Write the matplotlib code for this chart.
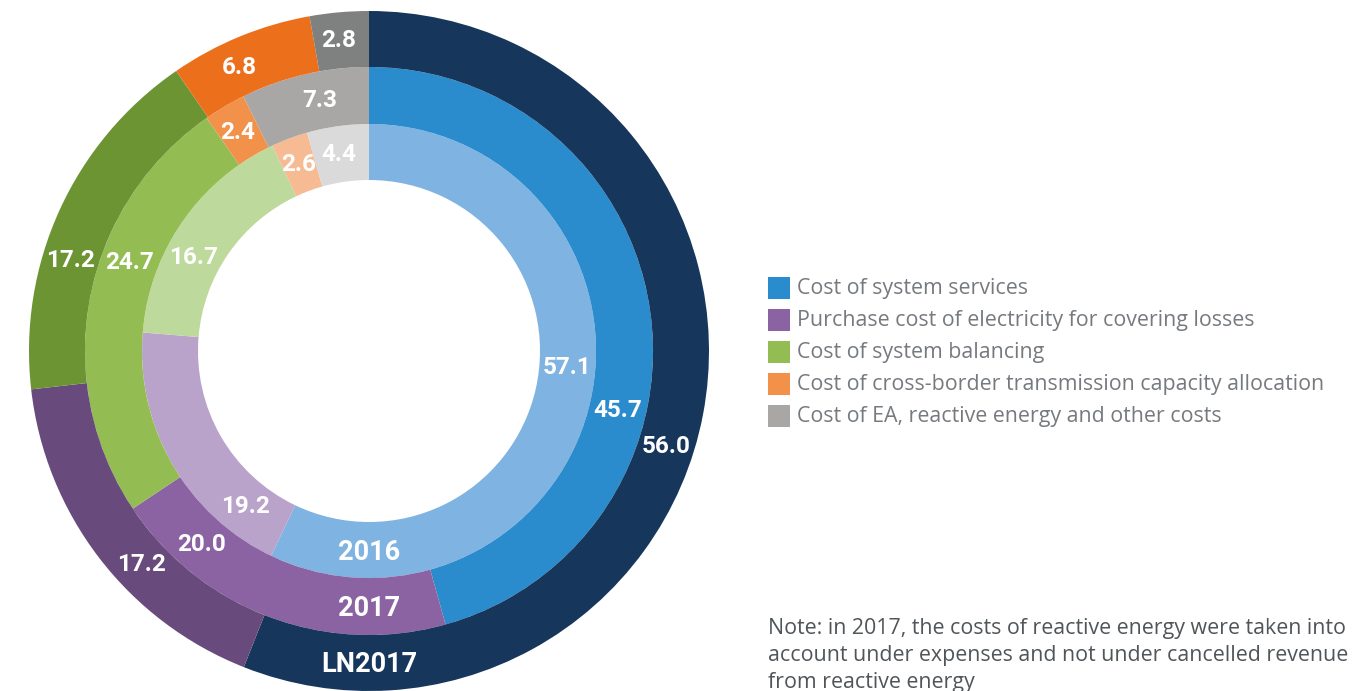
import numpy as np
import matplotlib
matplotlib.use("Agg")
import matplotlib.pyplot as plt
from matplotlib.patches import Rectangle

# ---------------- data ----------------
categories = [
    "Cost of system services",
    "Purchase cost of electricity for covering losses",
    "Cost of system balancing",
    "Cost of cross-border transmission capacity allocation",
    "Cost of EA, reactive energy and other costs",
]
ring_names = ["2016", "2017", "LN2017"]          # inner -> outer
values_2016 = [57.1, 19.2, 16.7, 2.6, 4.4]
values_2017 = [45.7, 20.0, 24.7, 2.4, 7.3]
values_ln2017 = [56.0, 17.2, 17.2, 6.8, 2.8]
note_text = ("Note: in 2017, the costs of reactive energy were taken into\n"
             "account under expenses and not under cancelled revenue\n"
             "from reactive energy")

# ---------------- style ----------------
colors_inner = ["#7fb3e2", "#b9a3ca", "#bdd99c", "#f7bb94", "#dadada"]
colors_middle = ["#2b8ccd", "#8b63a3", "#93bd52", "#f2924a", "#a8a7a6"]
colors_outer = ["#17365c", "#684a7d", "#6c9433", "#ec701c", "#7f8080"]

W, H = 1356, 691
cx, cy = 369, H - 351
rings = [  # (values, colors, outer radius, width, label nudges in degrees)
    (values_2016, colors_inner, 227, 56, [7.9, 21.6, 6.8, 0.2, 0.7]),
    (values_2017, colors_middle, 284, 57, [-21.2, -20.5, -9.5, 0.5, -1.9]),
    (values_ln2017, colors_outer, 340, 56, [-7.0, 5.8, 7.7, 2.3, 0.5]),
]

label_font = ['Roboto', 'DejaVu Sans']
text_font = ['Open Sans', 'DejaVu Sans']
fig = plt.figure(figsize=(W / 100, H / 100), dpi=100)
ax = fig.add_axes([0, 0, 1, 1])

for (vals, cols, r, w, nudges), name in zip(rings, ring_names):
    ax.pie(vals, radius=r, center=(cx, cy), startangle=90, counterclock=False,
           colors=cols, wedgeprops=dict(width=w, linewidth=0))
    total = sum(vals)
    cum = np.cumsum(vals)
    rm = r - w / 2
    for v, c, nd in zip(vals, cum, nudges):
        ang = np.deg2rad(90 - 360 * (c - v / 2) / total + nd)
        ax.text(cx + rm * np.cos(ang), cy + rm * np.sin(ang), f"{v:.1f}",
                ha='center', va='center', color='white', fontsize=17.5,
                family=label_font, weight='bold')
    ax.text(cx, cy - rm - 2, name, ha='center', va='center', color='white',
            fontsize=19.5, family=label_font, weight='bold')

# legend
leg_x, leg_y0, leg_dy = 768, H - 288, 32
for i, (cat, col) in enumerate(zip(categories, colors_middle)):
    y = leg_y0 - i * leg_dy
    ax.add_patch(Rectangle((leg_x, y - 11), 22, 22, facecolor=col, edgecolor='none'))
    ax.text(leg_x + 29, y, cat, ha='left', va='center', color='#767a7e',
            fontsize=15.4, family=text_font)

ax.text(768, H - 618, note_text, ha='left', va='top', color='#505559',
        fontsize=15.4, family=text_font, linespacing=1.38)

ax.set_xlim(0, W)
ax.set_ylim(0, H)
ax.set_aspect('equal')
ax.axis('off')
fig.savefig("out.png", dpi=100, facecolor='white')
